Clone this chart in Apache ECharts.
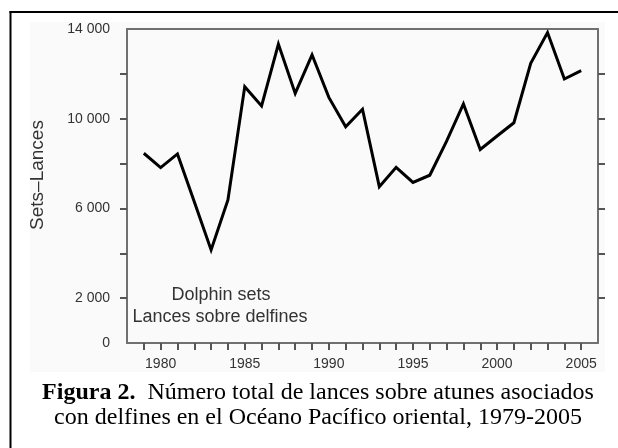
<!DOCTYPE html>
<html>
<head>
<meta charset="utf-8">
<script src="https://cdn.jsdelivr.net/npm/echarts@6/dist/echarts.min.js"></script>
<style>
html,body{margin:0;padding:0;background:#fff;}
#c{width:618px;height:448px;}
</style>
</head>
<body>
<div id="c"></div>
<script>
var years = [1979,1980,1981,1982,1983,1984,1985,1986,1987,1988,1989,1990,1991,1992,1993,1994,1995,1996,1997,1998,1999,2000,2001,2002,2003,2004,2005];
var dolphinSets = [8460,7820,8430,6300,4150,6380,11430,10570,13330,11130,12850,10950,9640,10420,6970,7830,7160,7480,9000,10660,8630,9230,9820,12470,13840,11770,12140];
var xTickYears = years.slice();
var xLabelYears = [1980,1985,1990,1995,2000,2005];
var yTickValues = [2000,4000,6000,8000,10000,12000];
var yLabelValues = [0,2000,6000,10000,14000];
var yAxisTitle = 'Sets–Lances';
var noteLines = ['Dolphin sets','Lances sobre delfines'];
var captionBold = 'Figura 2.';
var captionLine1 = '  Número total de lances sobre atunes asociados';
var captionLine2 = 'con delfines en el Océano Pacífico oriental, 1979-2005';

var pairs = years.map(function(y,i){return [y, dolphinSets[i]];});
function fmt(v){
  var s = String(v);
  if (s.length > 3) s = s.slice(0, s.length-3) + ' ' + s.slice(s.length-3);
  return s;
}
var axisColor = '#707070';
var labelColor = '#333';
var sans = '"Liberation Sans", Arial, sans-serif';
var serif = '"Liberation Serif", "Times New Roman", serif';

var chart = echarts.init(document.getElementById('c'));
chart.setOption({
  animation: false,
  backgroundColor: '#fff',
  grid: {left:127, right:20, top:29, bottom:105, containLabel:false},
  xAxis: [{
    type:'value', min:1978, max:2006, position:'bottom',
    axisLine:{show:true, onZero:false, lineStyle:{color:axisColor, width:2}},
    axisTick:{show:true, length:7, customValues:xTickYears, lineStyle:{color:'#555', width:2}},
    axisLabel:{customValues:xLabelYears, formatter:function(v){return String(v);}, color:labelColor, fontSize:14, fontFamily:sans, margin:14},
    splitLine:{show:false}
  },{
    type:'value', min:1978, max:2006, position:'top',
    axisLine:{show:true, onZero:false, lineStyle:{color:axisColor, width:2}},
    axisTick:{show:false}, axisLabel:{show:false}, splitLine:{show:false}
  }],
  yAxis: [{
    type:'value', min:0, max:14000, interval:2000, position:'left',
    axisLine:{show:true, onZero:false, lineStyle:{color:axisColor, width:2}},
    axisTick:{show:true, length:7, customValues:yTickValues, lineStyle:{color:'#555', width:2}},
    axisLabel:{customValues:yLabelValues, formatter:function(v){return fmt(v);}, color:labelColor, fontSize:14, fontFamily:sans, margin:17},
    splitLine:{show:false}
  },{
    type:'value', min:0, max:14000, interval:2000, position:'right',
    axisLine:{show:true, onZero:false, lineStyle:{color:axisColor, width:2}},
    axisTick:{show:true, length:7, customValues:yTickValues, lineStyle:{color:'#555', width:2}},
    axisLabel:{show:false}, splitLine:{show:false}
  }],
  series: [{
    type:'line', data:pairs, xAxisIndex:0, yAxisIndex:0,
    showSymbol:false, symbol:'none',
    lineStyle:{color:'#000', width:3, join:'miter'},
    z:5
  }],
  graphic: [
    {type:'rect', z:-10, shape:{x:30, y:22, width:575, height:350}, style:{fill:'#fafafa'}},
    {type:'line', shape:{x1:10.5, y1:11, x2:10.5, y2:448}, style:{stroke:'#000', lineWidth:2}},
    {type:'line', shape:{x1:9.5, y1:12, x2:618, y2:12}, style:{stroke:'#000', lineWidth:2}},
    {type:'text', x:38, y:175, rotation:Math.PI/2, style:{text:yAxisTitle, fill:labelColor, font:'19px '+sans, align:'center', verticalAlign:'middle'}},
    {type:'text', x:221, y:295, style:{text:noteLines[0], fill:labelColor, font:'18px '+sans, align:'center', verticalAlign:'middle'}},
    {type:'text', x:220, y:317, style:{text:noteLines[1], fill:labelColor, font:'18px '+sans, align:'center', verticalAlign:'middle'}},
    {type:'text', x:318, y:393, style:{
      text:'{b|'+captionBold+'}{n|'+captionLine1+'}', align:'center', verticalAlign:'middle',
      rich:{b:{font:'bold 24px '+serif, fill:'#000'}, n:{font:'24px '+serif, fill:'#000'}}
    }},
    {type:'text', x:318, y:418, style:{text:captionLine2, font:'24px '+serif, fill:'#000', align:'center', verticalAlign:'middle'}}
  ]
});
</script>
</body>
</html>
